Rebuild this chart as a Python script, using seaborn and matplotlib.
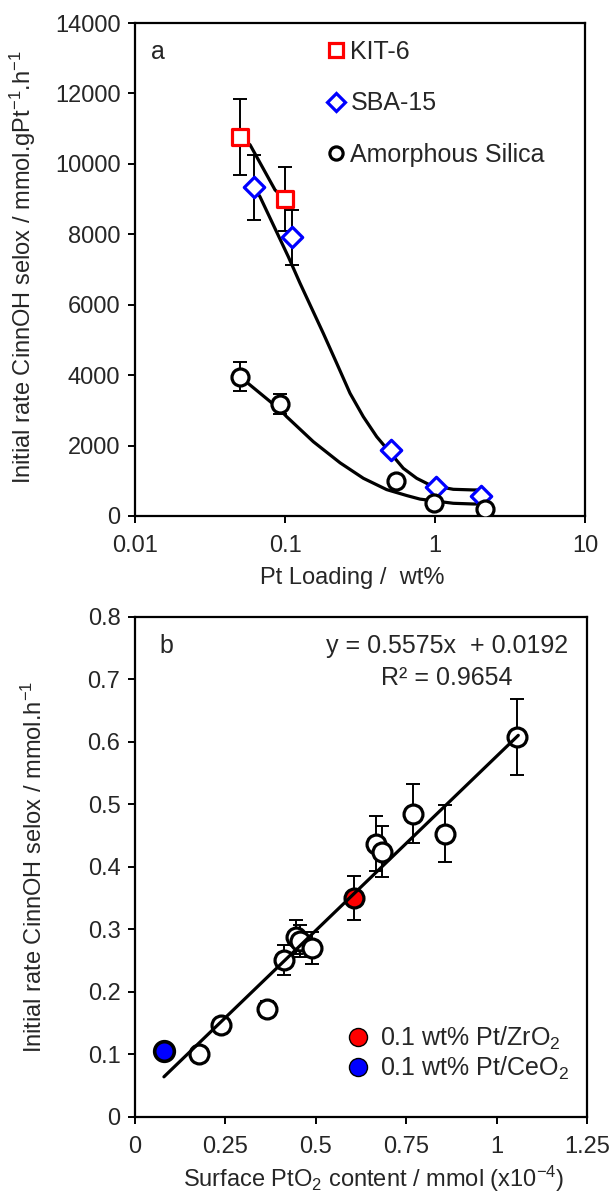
import numpy as np
import pandas as pd
import matplotlib
matplotlib.use("Agg")
import matplotlib.pyplot as plt
import seaborn as sns
from matplotlib.lines import Line2D
from matplotlib.ticker import NullLocator

sns.set_theme(style="white")
plt.rcParams['font.family'] = ['Liberation Sans', 'DejaVu Sans']
plt.rcParams['mathtext.fontset'] = 'custom'
plt.rcParams['mathtext.rm'] = 'Liberation Sans'
plt.rcParams['mathtext.it'] = 'Liberation Sans'
plt.rcParams['mathtext.default'] = 'regular'

# ---------------- Panel a data ----------------
kit_x = [0.05, 0.10]
kit_y = [10770, 9000]
kit_err = [1075, 920]
sba_x = [0.062, 0.112, 0.51, 1.02, 2.03]
sba_y = [9330, 7910, 1880, 830, 570]
sba_err = [930, 790, 0, 0, 0]
sil_x = [0.05, 0.092, 0.55, 0.98, 2.15]
sil_y = [3960, 3180, 1000, 360, 200]
sil_err = [400, 285, 0, 0, 0]

# trend curves
kit_curve_x = [0.05, 0.0585, 0.0858, 0.10]
kit_curve_y = [10770, 10540, 9260, 9000]
sba_curve_x = [0.062, 0.0681, 0.1052, 0.126, 0.180, 0.2212, 0.2713, 0.3327,
               0.4087, 0.6146, 0.755, 0.926, 1.324, 1.80, 2.0]
sba_curve_y = [9330, 9068, 7364, 6608, 5188, 4337, 3485, 2820,
               2252, 1355, 1071, 880, 758, 740, 740]
sil_curve_x = [0.05, 0.0585, 0.092, 0.1026, 0.1545, 0.233, 0.333, 0.476,
               0.649, 0.794, 1.324, 1.80, 2.15]
sil_curve_y = [3960, 3720, 3030, 2820, 2110, 1510, 1071, 750,
               580, 480, 361, 341, 340]

a_xticks = [0.01, 0.1, 1, 10]
a_xticklabels = ["0.01", "0.1", "1", "10"]
a_yticks = [0, 2000, 4000, 6000, 8000, 10000, 12000, 14000]
a_legend_labels = ["KIT-6", "SBA-15", "Amorphous Silica"]

# ---------------- Panel b data ----------------
b_x = [0.178, 0.238, 0.366, 0.411, 0.446, 0.455, 0.490, 0.666, 0.684, 0.768, 0.858, 1.057]
b_y = [0.100, 0.146, 0.172, 0.250, 0.287, 0.281, 0.270, 0.437, 0.424, 0.485, 0.453, 0.607]
b_err = [0.0, 0.0, 0.013, 0.024, 0.027, 0.025, 0.026, 0.044, 0.041, 0.047, 0.045, 0.061]
zr_x = [0.605]
zr_y = [0.350]
zr_err = [0.035]
ce_x = [0.080]
ce_y = [0.105]
fit_slope = 0.5575
fit_intercept = 0.0192
fit_x = [0.08, 1.06]
b_xticks = [0, 0.25, 0.5, 0.75, 1, 1.25]
b_xticklabels = ["0", "0.25", "0.5", "0.75", "1", "1.25"]
b_yticks = [0, 0.1, 0.2, 0.3, 0.4, 0.5, 0.6, 0.7, 0.8]
b_yticklabels = ["0", "0.1", "0.2", "0.3", "0.4", "0.5", "0.6", "0.7", "0.8"]
b_legend_labels = ["0.1 wt% Pt/ZrO$_2$", "0.1 wt% Pt/CeO$_2$"]

FS = 17
LFS = 18

fig = plt.figure(figsize=(6.10, 11.95), dpi=100)
ax1 = fig.add_axes([135/610, 1-516/1195, 450/610, 493/1195])
ax2 = fig.add_axes([135/610, 1-1116.7/1195, 452/610, 500/1195])

def style(ax):
    for s in ax.spines.values():
        s.set_color("black")
        s.set_linewidth(1.6)
        s.set_visible(True)
    ax.tick_params(axis="both", which="major", direction="out", length=5,
                   width=1.4, color="black", labelsize=FS,
                   bottom=True, left=True, top=False, right=False)
    ax.tick_params(axis="x", which="major", pad=9)
    ax.tick_params(axis="y", which="major", pad=5.5)
    ax.tick_params(which="minor", bottom=False, left=False)
    ax.grid(False)
    ax.set_facecolor("white")

# ---------- Panel a ----------
ax1.set_xscale("log")
for cx, cy in [(kit_curve_x, kit_curve_y), (sba_curve_x, sba_curve_y), (sil_curve_x, sil_curve_y)]:
    sns.lineplot(x=cx, y=cy, ax=ax1, color="black", linewidth=2.3, sort=False,
                 estimator=None, zorder=2)
for xs, ys, es in [(kit_x, kit_y, kit_err), (sba_x, sba_y, sba_err), (sil_x, sil_y, sil_err)]:
    xe = [x for x, e in zip(xs, es) if e > 0]
    ye = [y for y, e in zip(ys, es) if e > 0]
    ee = [e for e in es if e > 0]
    ax1.errorbar(xe, ye, yerr=ee, fmt="none", ecolor="black", elinewidth=1.4,
                 capsize=5, capthick=1.4, zorder=1)
sns.scatterplot(x=kit_x, y=kit_y, ax=ax1, marker="s", s=144, facecolor="white",
                edgecolor="red", linewidth=2.3, zorder=3)
sns.scatterplot(x=sba_x, y=sba_y, ax=ax1, marker="D", s=108, facecolor="white",
                edgecolor="blue", linewidth=2.3, zorder=3)
sns.scatterplot(x=sil_x, y=sil_y, ax=ax1, marker="o", s=150, facecolor="white",
                edgecolor="black", linewidth=2.3, zorder=3)
ax1.set_xlim(0.01, 10)
ax1.set_ylim(0, 14000)
ax1.set_xticks(a_xticks)
ax1.set_xticklabels(a_xticklabels)
ax1.xaxis.set_minor_locator(NullLocator())
ax1.set_yticks(a_yticks)
ax1.set_yticklabels([str(v) for v in a_yticks])
style(ax1)
ax1.set_xlabel("Pt Loading /  wt%", fontsize=FS)
ax1.set_ylabel("Initial rate CinnOH selox / mmol.gPt$^{-1}$.h$^{-1}$", fontsize=FS)
ax1.xaxis.set_label_coords(0.482, -0.104)
ax1.yaxis.set_label_coords(-0.215, 0.505)
ax1.text(0.035, 0.942, "a", transform=ax1.transAxes, fontsize=LFS, ha="left", va="center")
h_a = [Line2D([], [], ls="", marker="s", ms=10.5, mfc="white", mec="red", mew=2.3),
       Line2D([], [], ls="", marker="D", ms=9, mfc="white", mec="blue", mew=2.3),
       Line2D([], [], ls="", marker="o", ms=9.5, mfc="white", mec="black", mew=2.3)]
ax1.legend(h_a, a_legend_labels, loc="upper left", bbox_to_anchor=(0.425, 0.966),
           frameon=False, fontsize=LFS, handlelength=0.8, handletextpad=0.17,
           labelspacing=1.1, borderpad=0, borderaxespad=0)

# ---------- Panel b ----------
ax2.errorbar(b_x, b_y, yerr=b_err, fmt="none", ecolor="black", elinewidth=1.4,
             capsize=5, capthick=1.4, zorder=1)
ax2.errorbar(zr_x, zr_y, yerr=zr_err, fmt="none", ecolor="black", elinewidth=1.4,
             capsize=5, capthick=1.4, zorder=1)
sns.scatterplot(x=b_x, y=b_y, ax=ax2, marker="o", s=185, facecolor="white",
                edgecolor="black", linewidth=2.3, zorder=2)
sns.scatterplot(x=zr_x, y=zr_y, ax=ax2, marker="o", s=185, facecolor="red",
                edgecolor="black", linewidth=2.3, zorder=2)
sns.scatterplot(x=ce_x, y=ce_y, ax=ax2, marker="o", s=200, facecolor="blue",
                edgecolor="black", linewidth=2.6, zorder=2)
fit_y = [fit_slope * v + fit_intercept for v in fit_x]
sns.lineplot(x=fit_x, y=fit_y, ax=ax2, color="black", linewidth=2.3, zorder=4)
ax2.set_xlim(0, 1.25)
ax2.set_ylim(0, 0.8)
ax2.set_xticks(b_xticks)
ax2.set_xticklabels(b_xticklabels)
ax2.set_yticks(b_yticks)
ax2.set_yticklabels(b_yticklabels)
style(ax2)
ax2.set_xlabel("Surface PtO$_2$ content / mmol (x10$^{-4}$)", fontsize=FS)
ax2.set_ylabel("Initial rate CinnOH selox / mmol.h$^{-1}$", fontsize=FS)
ax2.xaxis.set_label_coords(0.528, -0.094)
ax2.yaxis.set_label_coords(-0.194, 0.5)
ax2.text(0.053, 0.9405, "b", transform=ax2.transAxes, fontsize=LFS, ha="left", va="center")
ax2.text(0.959, 0.9405, f"y = {fit_slope}x  + {fit_intercept}", transform=ax2.transAxes,
         fontsize=LFS, ha="right", va="center")
ax2.text(0.835, 0.878, "R² = 0.9654", transform=ax2.transAxes,
         fontsize=LFS, ha="right", va="center")
h_b = [Line2D([], [], ls="", marker="o", ms=13, mfc="red", mec="black", mew=1.0),
       Line2D([], [], ls="", marker="o", ms=13, mfc="blue", mec="black", mew=1.0)]
ax2.legend(h_b, b_legend_labels, loc="lower left", bbox_to_anchor=(0.472, 0.07),
           frameon=False, fontsize=LFS, handlelength=0.8, handletextpad=0.45,
           labelspacing=0.1, borderpad=0, borderaxespad=0)

fig.savefig("out.png", dpi=100, facecolor="white")
